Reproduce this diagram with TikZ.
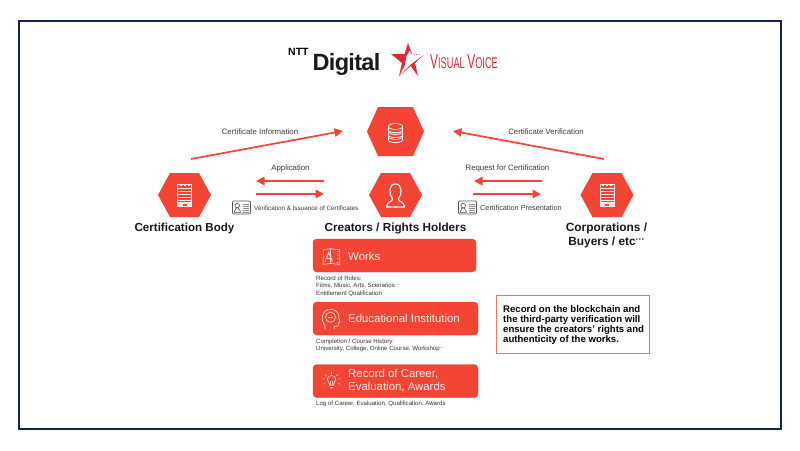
\documentclass[tikz,border=0pt]{standalone}
\usepackage{fontspec}
\setmainfont{Liberation Sans}
\usetikzlibrary{arrows.meta,shapes.geometric}
\definecolor{nred}{HTML}{F44433}
\definecolor{navy}{HTML}{14234F}
\definecolor{ink}{HTML}{3A3A3A}
\definecolor{boxline}{HTML}{E8746A}
\definecolor{logored}{HTML}{DE2A32}
\tikzset{
  x=1pt,y=-1pt,
  flow/.style={draw=nred,line width=1.7pt,-{Triangle[length=8.5pt,width=8.5pt]}},
  small/.style={font=\fontsize{7.8}{9}\selectfont,text=ink,inner sep=0pt},
  tiny/.style={font=\fontsize{6.1}{7.6}\selectfont,text=black!80,inner sep=0pt,align=left,anchor=north west},
  actor/.style={font=\fontsize{11.6}{14}\selectfont\bfseries,text=black!90,inner sep=0pt,align=center},
  card/.style={fill=nred,draw=nred!90!black,line width=.4pt,rounded corners=4pt},
  cardtext/.style={font=\fontsize{11.4}{13}\selectfont,text=white!92!nred,inner sep=0pt,align=left,anchor=west},
  icon/.style={draw=white,line width=.7pt,fill=none},
}
\newcommand{\hexa}[6]{\path[fill=nred] (#1-#3,#2)--(#1-#5,#2-#4)--(#1+#5,#2-#4)--(#1+#3,#2)--(#1+#5,#2+#4)--(#1-#5,#2+#4)--cycle;
  \coordinate (#6) at (#1,#2);}
\newcommand{\servericon}[2]{\begin{scope}[shift={(#1,#2)}]
  \draw[white!90!nred,line width=.7pt] (-7,-11) rectangle (7,11);
  \foreach \yy in {-7,-4,-1,2,5}{\draw[white!90!nred,line width=.9pt] (-7,\yy) -- (7,\yy);}
  \fill[white!90!nred] (-7,7) rectangle (7,11);
  \fill[nred] (-2,8.5) rectangle (2,11);
  \foreach \xx in {-4,0,4}{\fill[white!90!nred] (\xx-1,-11.5) rectangle (\xx+1,-9.5);}
\end{scope}}
\newcommand{\idcard}[2]{\begin{scope}[shift={(#1,#2)}]
  \draw[draw=black!65,line width=.7pt,rounded corners=1.2pt] (0,0) rectangle (18,13);
  \draw[black!70,line width=.6pt] (4.7,4.6) circle (2.3);
  \draw[black!70,line width=.6pt] (1.5,11.3) .. controls (1.5,8.5) and (3.5,8.5) .. (4,7) (5.4,7) .. controls (6,8.5) and (8,8.5) .. (8,11.3) -- (1.5,11.3);
  \foreach \yy in {3,5,7,9,11}{\draw[black!45,line width=.7pt] (10,\yy) -- (16.5,\yy);}
\end{scope}}
\begin{document}
\begin{tikzpicture}
\useasboundingbox (0,0) rectangle (800,450);
\fill[white] (0,0) rectangle (800,450);
\draw[navy,line width=2.2pt] (19,21) rectangle (781,429);

% logos
\node[inner sep=0pt,anchor=west,font=\fontsize{10.5}{11}\selectfont\bfseries] (ntt) at (288,52) {NTT};
\node[inner sep=0pt,anchor=west,font=\fontsize{23.5}{24}\selectfont\bfseries,text=black!90] (digital) at (312.5,64) {\addfontfeature{LetterSpace=-3}Digital};
\fill[logored] (391,54) -- (404.5,54) -- (408,43) -- (410,50) -- (406.5,56) -- (404.5,66) -- (399,76) -- (402,63) -- cycle;
\fill[logored] (399,76) -- (424,55) -- (411,66.5) -- (418,76) -- (415,63) -- (424,55) -- (412,63.5) -- cycle;
\fill[logored] (408,43) -- (412,54) -- (411,54) -- cycle;
\foreach \xx in {414,416.5,419}{\fill[logored] (\xx,54.3) circle (.55);}
\node[inner sep=0pt,anchor=west,text=logored] (vv) at (430,62) {\scalebox{.595}[1]{\fontsize{20}{21}\selectfont V\fontsize{15.5}{21}\selectfont ISUAL\ \fontsize{20}{21}\selectfont V\fontsize{15.5}{21}\selectfont OICE}};

% hexagons
\hexa{395.5}{131.5}{28.5}{24.5}{17.5}{db}
\hexa{184.5}{195}{26.5}{22}{14.5}{cb}
\hexa{395.5}{195}{26.5}{22}{14.5}{cr}
\hexa{607}{195}{26.5}{22}{14.5}{co}

% db icon
\begin{scope}[shift={(395.5,131.5)}]
  \foreach \yy in {5,0,-5}{\draw[icon,fill=nred] (-7,\yy) -- (-7,\yy+3.5) .. controls (-7,\yy+7) and (7,\yy+7) .. (7,\yy+3.5) -- (7,\yy);
  \draw[icon,fill=nred] (0,\yy) ellipse (7 and 3);}
\end{scope}
\servericon{184.5}{195}
\servericon{607}{195}
% person icon
\begin{scope}[shift={(395.5,196)}]
  \draw[white,line width=1.1pt,line join=round] (-2.8,3) .. controls (-7,-2) and (-7,-12) .. (0,-12) .. controls (7,-12) and (7,-2) .. (2.8,3) .. controls (3,6) and (9,5.5) .. (9,11) -- (-9,11) .. controls (-9,5.5) and (-3,6) .. (-2.8,3) -- cycle;
\end{scope}

% arrows
\coordinate (a1s) at (191,159); \coordinate (a1e) at (343,131);
\coordinate (a2s) at (604,159); \coordinate (a2e) at (453,131);
\draw[flow] (a1s) -- (a1e);
\draw[flow] (a2s) -- (a2e);
\coordinate (a3s) at (324,181); \coordinate (a3e) at (256,181);
\coordinate (a4s) at (256,194); \coordinate (a4e) at (324,194);
\coordinate (a5s) at (542,181); \coordinate (a5e) at (474,181);
\coordinate (a6s) at (473,194); \coordinate (a6e) at (541,194);
\draw[flow] (a3s) -- (a3e);
\draw[flow] (a4s) -- (a4e);
\draw[flow] (a5s) -- (a5e);
\draw[flow] (a6s) -- (a6e);

% labels
\node[small] (l1) at (260,131.5) {Certificate Information};
\node[small] (l2) at (546,131.5) {Certificate Verification};
\node[small] (l3) at (290.5,168.5) {Application};
\node[small] (l4) at (507.5,168.5) {Request for Certification};
\node[small,anchor=west,font=\fontsize{6.3}{8}\selectfont] (l5) at (254,208) {Verification \& Issuance of Certificates};
\node[small,anchor=west,font=\fontsize{7.3}{8}\selectfont] (l6) at (480,207.5) {Certification Presentation};
\idcard{232.5}{201}
\idcard{458.5}{201}

\node[actor] (t1) at (184.5,228.5) {Certification Body};
\node[actor,font=\fontsize{11.75}{14}\selectfont\bfseries] (t2) at (395.5,228.5) {Creators / Rights Holders};
\node[actor,font=\fontsize{11.9}{14}\selectfont\bfseries] (t3) at (606.5,235) {Corporations /\\Buyers / etc\raisebox{.25em}{\fontsize{9}{8}\selectfont ···}};

% cards
\draw[card] (313,239) rectangle (476,272);
\draw[card] (313,302) rectangle (478,335);
\draw[card] (313,364.5) rectangle (478,397.5);
\node[cardtext] (w) at (348,256) {Works};
\node[cardtext] (e) at (348,318.5) {Educational Institution};
\node[cardtext] (r) at (348,381) {Record of Career,\\Evaluation, Awards};

% works icon
\begin{scope}[shift={(331.5,257)},scale=.92,white!75!nred]
  \draw[line width=.7pt] (-9,-8) -- (-1,-9) -- (-1,7) -- (-9,8) -- cycle;
  \draw[line width=.7pt] (-1,-9) -- (9,-8) -- (9,8) -- (-1,7);
  \draw[line width=.9pt] (-7,5) -- (-3,-5) -- (1,5);
  \draw[line width=.7pt] (-5,1) -- (0,1);
  \foreach \yy in {-6,-2,2,6}{\fill (7,\yy) circle (.8);}
\end{scope}
% head icon
\begin{scope}[shift={(330.5,319.5)},scale=.92,white!85!nred]
  \draw[line width=.7pt] (-6,10.5) -- (-6,6) .. controls (-11,2) and (-10,-11) .. (0,-11) .. controls (8,-11) and (10,-5) .. (9,-1) -- (10.5,3) -- (8.5,3.5) -- (8.5,7) -- (4,7.5) -- (4,10.5);
  \draw[line width=.6pt] (0,-2.5) circle (5.5);
  \draw[line width=.6pt] (-2.5,-2.5) -- (2.5,-2.5);
\end{scope}
% bulb icon
\begin{scope}[shift={(331.5,381)},scale=.85,white!80!nred]
  \draw[line width=.7pt] (-2,5) .. controls (-2,1.5) and (-5,1) .. (-5,-2) .. controls (-5,-8) and (5,-8) .. (5,-2) .. controls (5,1) and (2,1.5) .. (2,5) -- cycle;
  \draw[line width=.7pt] (-2,7) -- (2,7) (-1,9) -- (1,9) (-1,5) -- (-1,0) (1,5) -- (1,0);
  \foreach \ang in {-200,-165,-135,-90,-45,-15,20}{\draw[line width=.5pt] (\ang:8.5) -- (\ang:11);}
\end{scope}

% small card text
\node[tiny] (d1) at (316,275.5) {Record of Roles:\\Films, Music, Arts, Scenarios\raisebox{.2em}{\fontsize{5}{5}\selectfont ···}\\Entitlement Qualification};
\node[tiny] (d2) at (316,338.5) {Completion / Course History:\\University, College, Online Course, Workshop\raisebox{.2em}{\fontsize{5}{5}\selectfont ···}};
\node[tiny] (d3) at (316,401) {Log of Career, Evaluation, Qualification, Awards};

% note
\draw[boxline,line width=1pt] (496,295.5) rectangle (649,353.5);
\node[inner sep=0pt,anchor=north west,align=left,text=black,font=\fontsize{9.6}{10}\selectfont\bfseries] (n) at (503,305.5) {Record on the blockchain and\\the third-party verification will\\ensure the creators' rights and\\authenticity of the works.};
\end{tikzpicture}
\end{document}
